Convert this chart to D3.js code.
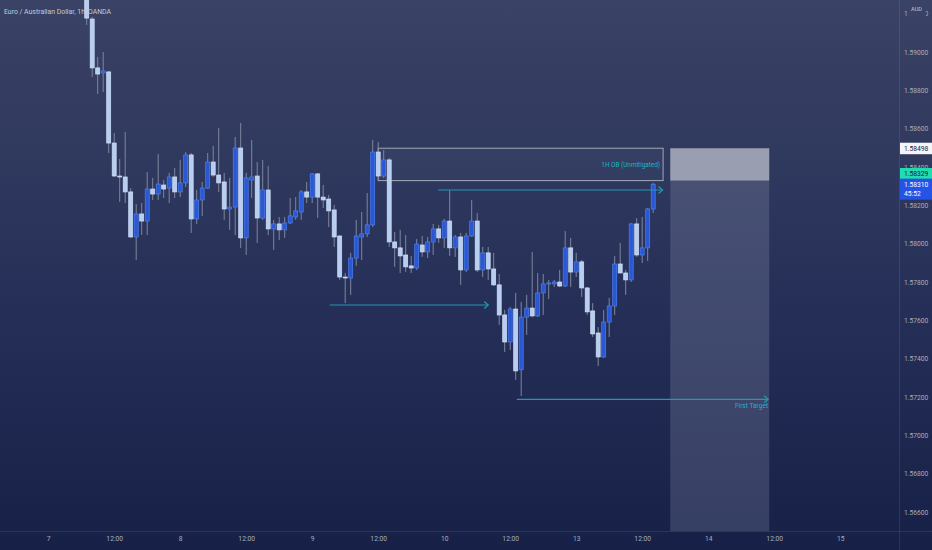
<!DOCTYPE html>
<html>
<head>
<meta charset="utf-8">
<script src="https://cdn.jsdelivr.net/npm/d3@7"></script>
<style>
  html, body { margin: 0; padding: 0; background: #161f46; }
  svg { display: block; font-family: Roboto, "Noto Sans", sans-serif; }
</style>
</head>
<body>
<svg id="chart" width="932" height="550"></svg>
<script>
// EURAUD 1h candles (bar 0 = 7th 07:00)
const opens = [1.59350,1.59172,1.58917,1.58891,1.58896,1.58525,1.58353,1.58348,1.58270,1.58035,
  1.58155,1.58118,1.58285,1.58259,1.58306,1.58290,1.58348,1.58270,1.58317,1.58463,
  1.58129,1.58228,1.58290,1.58426,1.58358,1.58322,1.58181,1.58191,1.58499,1.58030,
  1.58332,1.58353,1.58134,1.58280,1.58077,1.58103,1.58072,1.58108,1.58139,1.58165,
  1.58270,1.58243,1.58364,1.58243,1.58233,1.58176,1.58040,1.57826,1.57821,1.57925,
  1.58035,1.58051,1.58098,1.58478,1.58353,1.58437,1.58009,1.57978,1.57941,1.57884,
  1.57873,1.57993,1.57957,1.58009,1.58077,1.58030,1.58118,1.57978,1.58035,1.57863,
  1.58040,1.58118,1.57863,1.57952,1.57868,1.57785,1.57628,1.57487,1.57659,1.57342,
  1.57617,1.57664,1.57623,1.57743,1.57790,1.57790,1.57800,1.57779,1.57978,1.57852,
  1.57905,1.57769,1.57649,1.57534,1.57409,1.57591,1.57675,1.57894,1.57847,1.57811,
  1.58103,1.57941,1.57978,1.58181];
const highs = [1.59376,1.59183,1.58974,1.59000,1.58901,1.58577,1.58442,1.58583,1.58290,1.58207,
  1.58212,1.58374,1.58343,1.58468,1.58332,1.58369,1.58395,1.58437,1.58478,1.58473,
  1.58280,1.58322,1.58473,1.58510,1.58603,1.58369,1.58343,1.58557,1.58630,1.58369,
  1.58541,1.58426,1.58437,1.58405,1.58124,1.58139,1.58139,1.58238,1.58243,1.58280,
  1.58322,1.58369,1.58369,1.58306,1.58254,1.58202,1.58045,1.57847,1.57952,1.58124,
  1.58165,1.58264,1.58541,1.58530,1.58489,1.58447,1.58061,1.58072,1.58045,1.57936,
  1.58025,1.58040,1.58035,1.58103,1.58098,1.58129,1.58280,1.58045,1.58056,1.58056,
  1.58228,1.58160,1.57983,1.57983,1.57952,1.57842,1.57654,1.57670,1.57743,1.57696,
  1.57733,1.57957,1.57847,1.57842,1.57811,1.57811,1.57863,1.58066,1.58030,1.57952,
  1.57915,1.57774,1.57690,1.57565,1.57654,1.57717,1.57936,1.58004,1.57863,1.58108,
  1.58134,1.58139,1.58186,1.58317];
const lows = [1.59141,1.58870,1.58781,1.58791,1.58473,1.58348,1.58218,1.58212,1.58030,1.57915,
  1.58045,1.58045,1.58228,1.58228,1.58238,1.58212,1.58238,1.58243,1.58296,1.58056,
  1.58103,1.58145,1.58285,1.58348,1.58270,1.58124,1.58072,1.58045,1.57978,1.57941,
  1.58238,1.58004,1.58124,1.58045,1.57967,1.58019,1.58030,1.58103,1.58124,1.58124,
  1.58212,1.58212,1.58134,1.58186,1.58087,1.57983,1.57811,1.57690,1.57733,1.57884,
  1.57915,1.58035,1.58087,1.58332,1.58343,1.57983,1.57879,1.57847,1.57853,1.57847,
  1.57863,1.57931,1.57925,1.57941,1.58004,1.57978,1.57936,1.57931,1.57785,1.57852,
  1.58035,1.57852,1.57826,1.57811,1.57779,1.57576,1.57435,1.57445,1.57289,1.57205,
  1.57524,1.57617,1.57617,1.57628,1.57711,1.57774,1.57774,1.57774,1.57774,1.57826,
  1.57722,1.57628,1.57513,1.57362,1.57404,1.57513,1.57628,1.57847,1.57733,1.57800,
  1.57931,1.57899,1.57910,1.58160];
const closes = [1.59177,1.58917,1.58885,1.58901,1.58525,1.58353,1.58348,1.58270,1.58035,1.58155,
  1.58118,1.58285,1.58259,1.58311,1.58285,1.58348,1.58270,1.58317,1.58463,1.58129,
  1.58228,1.58290,1.58426,1.58358,1.58317,1.58181,1.58191,1.58499,1.58030,1.58343,
  1.58348,1.58134,1.58280,1.58077,1.58103,1.58072,1.58108,1.58145,1.58171,1.58270,
  1.58243,1.58364,1.58243,1.58228,1.58171,1.58035,1.57826,1.57821,1.57925,1.58040,
  1.58051,1.58098,1.58478,1.58353,1.58437,1.58009,1.57978,1.57936,1.57879,1.57873,
  1.57998,1.57957,1.58009,1.58077,1.58030,1.58118,1.57978,1.58035,1.57863,1.58040,
  1.58118,1.57863,1.57952,1.57868,1.57785,1.57628,1.57487,1.57659,1.57336,1.57617,
  1.57664,1.57623,1.57743,1.57790,1.57795,1.57800,1.57779,1.57978,1.57852,1.57905,
  1.57769,1.57644,1.57529,1.57409,1.57591,1.57675,1.57894,1.57847,1.57811,1.58103,
  1.57941,1.57978,1.58181,1.58310];

// time axis: bar index -> label
const timeTickBars = [-7, 5, 17, 29, 41, 53, 65, 77, 89, 101, 113, 125, 137];
const timeTickLabels = ['7','12:00','8','12:00','9','12:00','10','12:00','13','12:00','14','12:00','15'];
const priceTicks = [1.566,1.568,1.570,1.572,1.574,1.576,1.578,1.580,1.582,1.584,1.586,1.588,1.590,1.592];

// drawings
const obTop = 1.58498, obBottom = 1.58329, obFrom = 53, obTo = 104.8;
const arrowPrices = [1.58280, 1.57680, 1.57188];
const arrowFrom = [63.9, 44.2, 78.2];
const arrowTo = [104.7, 73, 123.9];
const posFrom = 106.1, posTo = 124.1, posEntry = 1.58329, posStop = 1.58498, posTarget = 1.5650;
const lastPrice = 1.58310, bidPrice = 1.58329, countdown = '45:52';

const svg = d3.select('#chart');
const W = 932, H = 550, paneR = 899, paneB = 531;

const defs = svg.append('defs');
const grad = defs.append('linearGradient').attr('id','bg').attr('x1',0).attr('y1',0).attr('x2',0).attr('y2',1);
grad.append('stop').attr('offset','0%').attr('stop-color','#3a4365');
grad.append('stop').attr('offset','55%').attr('stop-color','#262f57');
grad.append('stop').attr('offset','100%').attr('stop-color','#172047');
defs.append('clipPath').attr('id','pane').append('rect').attr('width',paneR).attr('height',paneB);

svg.append('rect').attr('width',W).attr('height',H).attr('fill','url(#bg)');

const x = d3.scaleLinear().domain([0, 103]).range([86.7, 653.2]);
const y = d3.scaleLinear().domain([1.566, 1.590]).range([512, 52]);

const pane = svg.append('g').attr('clip-path','url(#pane)');

// position box (short)
pane.append('rect')
  .attr('x', x(posFrom)).attr('width', x(posTo) - x(posFrom))
  .attr('y', y(posStop)).attr('height', y(posEntry) - y(posStop))
  .attr('fill', '#999fb0');
pane.append('rect')
  .attr('x', x(posFrom)).attr('width', x(posTo) - x(posFrom))
  .attr('y', y(posEntry)).attr('height', y(posTarget) - y(posEntry))
  .attr('fill', 'rgba(170,178,205,0.21)');

// order block rectangle
pane.append('rect')
  .attr('x', x(obFrom)).attr('width', x(obTo) - x(obFrom))
  .attr('y', y(obTop)).attr('height', y(obBottom) - y(obTop))
  .attr('fill', 'rgba(160,170,195,0.05)')
  .attr('stroke', '#a3a9ba').attr('stroke-width', 1);
pane.append('text')
  .attr('x', x(obTo) - 3).attr('y', (y(obTop) + y(obBottom)) / 2 + 2.5)
  .attr('text-anchor','end').attr('font-size', 6.4).attr('fill', '#22b3c4')
  .text('1H OB (Unmitigated)');

// candles
const bars = d3.range(opens.length);
const up = i => closes[i] >= opens[i];
pane.append('g').selectAll('line').data(bars).join('line')
  .attr('x1', i => x(i)).attr('x2', i => x(i))
  .attr('y1', i => y(highs[i])).attr('y2', i => y(lows[i]))
  .attr('stroke', '#7f879d').attr('stroke-width', 1);
pane.append('g').selectAll('rect').data(bars).join('rect')
  .attr('x', i => x(i) - 2).attr('width', 4)
  .attr('y', i => y(Math.max(opens[i], closes[i])))
  .attr('height', i => Math.max(1, Math.abs(y(opens[i]) - y(closes[i]))))
  .attr('fill', i => up(i) ? '#2a58d4' : '#b8cef1')
  .attr('stroke', i => up(i) ? '#4d7ff0' : '#d0e0fa')
  .attr('stroke-width', 0.7);

// arrows
const arrows = pane.append('g');
arrowPrices.forEach((p, k) => {
  const x0 = x(arrowFrom[k]), x1 = x(arrowTo[k]), yy = y(p);
  arrows.append('line').attr('x1', x0).attr('x2', x1).attr('y1', yy).attr('y2', yy)
    .attr('stroke', '#2199b0').attr('stroke-width', 1.2);
  arrows.append('path').attr('d', `M${x1-4},${yy-3.5}L${x1},${yy}L${x1-4},${yy+3.5}`)
    .attr('fill','none').attr('stroke', '#2199b0').attr('stroke-width', 1.2);
});
pane.append('text')
  .attr('x', x(arrowTo[2])).attr('y', y(arrowPrices[2]) + 9)
  .attr('text-anchor','end').attr('font-size', 6.6).attr('fill', '#22b3c4')
  .text('First Target');

// pane separators
svg.append('line').attr('x1', paneR + 0.5).attr('x2', paneR + 0.5).attr('y1', 0).attr('y2', H)
  .attr('stroke', 'rgba(255,255,255,0.09)');
svg.append('line').attr('x1', 0).attr('x2', W).attr('y1', paneB + 0.5).attr('y2', paneB + 0.5)
  .attr('stroke', 'rgba(255,255,255,0.09)');

// price axis
const yAxis = svg.append('g').attr('transform', `translate(${paneR + 5},0)`)
  .call(d3.axisRight(y).tickValues(priceTicks).tickFormat(d3.format('.5f')).tickSize(0).tickPadding(0));
yAxis.select('.domain').remove();
yAxis.selectAll('text').attr('fill', '#a9adbb').attr('font-size', 6.7).attr('font-family', 'Roboto');

// time axis
const xAxis = svg.append('g').attr('transform', `translate(0,${paneB + 5})`)
  .call(d3.axisBottom(x).tickValues(timeTickBars).tickFormat((d, i) => timeTickLabels[i]).tickSize(0).tickPadding(0));
xAxis.select('.domain').remove();
xAxis.selectAll('text').attr('fill', '#a9adbb').attr('font-size', 6.7).attr('font-family', 'Roboto');

// currency badge
svg.append('rect').attr('x', 907).attr('y', 4).attr('width', 19).attr('height', 12).attr('fill', '#3a4365');
svg.append('text').attr('x', 916.5).attr('y', 11).attr('text-anchor','middle')
  .attr('font-size', 5.6).attr('fill', '#c3c7d3').text('AUD');

// price badges (top offset from price line, height, colours, lines)
function badge(p, dy, h, bg, fg, lines) {
  const top = y(p) + dy;
  const g = svg.append('g');
  g.append('rect').attr('x', paneR + 1).attr('y', top).attr('width', W - paneR - 1).attr('height', h)
    .attr('fill', bg);
  lines.forEach((t, k) => g.append('text').attr('x', paneR + 5).attr('y', top + 8 + k * 9.5)
    .attr('font-size', 6.7).attr('fill', fg).text(t));
}
badge(obTop, -5.5, 11.5, '#f4f5f8', '#1b2140', [d3.format('.5f')(obTop)]);
badge(bidPrice, -12.6, 11.2, '#20dcb0', '#10213a', [d3.format('.5f')(bidPrice)]);
badge(lastPrice, -5.6, 21, '#2553e6', '#ffffff', [d3.format('.5f')(lastPrice), countdown]);

// title
svg.append('text').attr('x', 4).attr('y', 14).attr('font-size', 6.9).attr('fill', '#c5c9d5')
  .text('Euro / Australian Dollar, 1h, OANDA');
</script>
</body>
</html>
